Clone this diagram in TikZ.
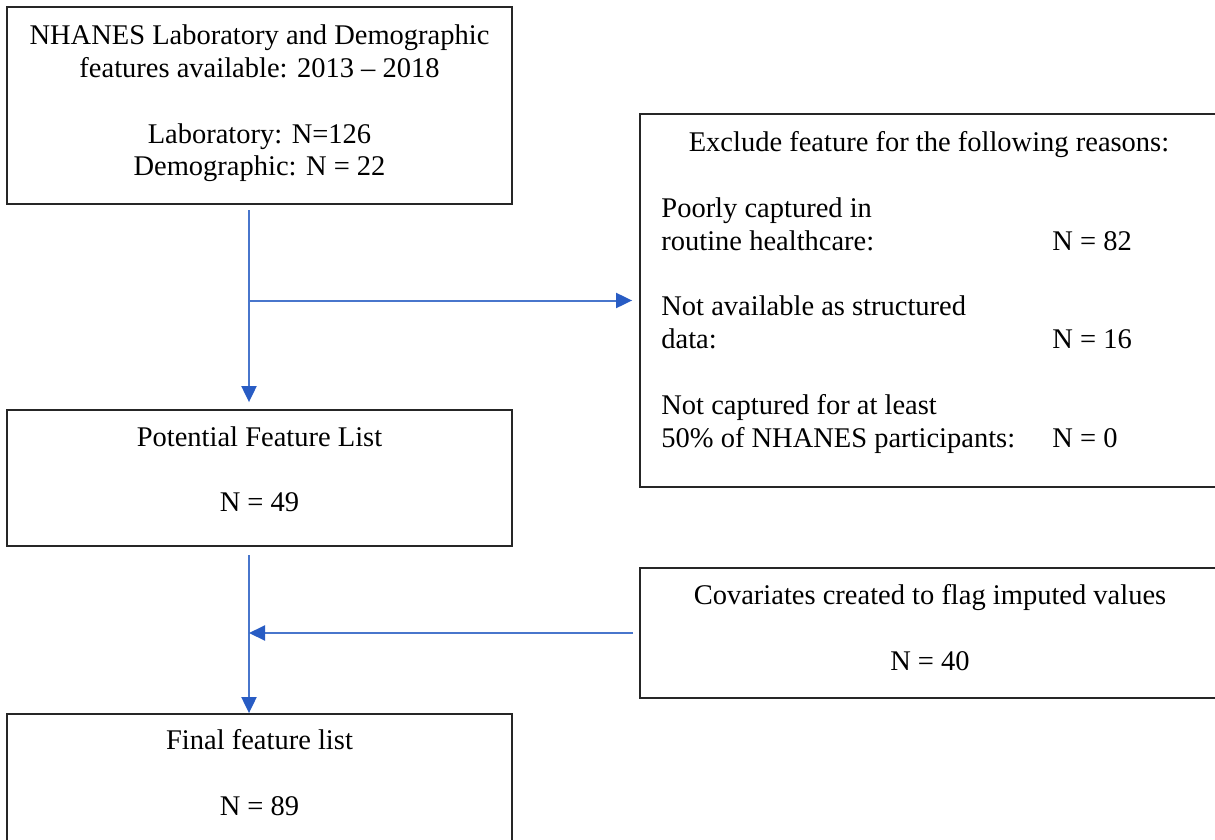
\documentclass[tikz,border=0pt]{standalone}
\usepackage{fontspec}
\setmainfont{Liberation Serif}
\usetikzlibrary{arrows.meta,positioning,calc}

\definecolor{flowblue}{RGB}{72,118,204}
\definecolor{tipblue}{RGB}{40,92,196}

\begin{document}
\begin{tikzpicture}[
  x=0.5pt, y=-0.5pt,
  >={Triangle[length=8pt,width=7.5pt,color=tipblue]},
  every node/.style={font=\fontsize{14.25}{16.4}\selectfont},
  box/.style={draw=black!85, line width=0.9pt, inner sep=0pt,
              minimum width=252.5pt, minimum height=68pt},
  sidebox/.style={box, minimum width=290pt},
  txt/.style={align=center, inner sep=0pt, anchor=base},
  flow/.style={->, draw=flowblue, line width=1pt},
]
\useasboundingbox (0,0) rectangle (1215,840);
\clip (0,0) rectangle (1215,840);
\fill[white] (0,0) rectangle (1215,840);

% left column
\node[box, minimum height=98.5pt] (avail) at (259.5,105.5) {};
\node[box] (pot) at (259.5,478) {};
\node[box] (final) at (259.5,782) {};

% right column
\node[sidebox, minimum height=186.5pt] (excl) at (930,300.5) {};
\node[sidebox, minimum height=65pt] (cov) at (930,633) {};

% texts (base = last line)
\node[txt] (availtxt) at (259.5,176)
  {NHANES Laboratory and Demographic\\features available: 2013 -- 2018\\[16.4pt]
   Laboratory: N=126\\Demographic: N = 22};
\node[txt] (pottxt) at (259.5,511.7) {Potential Feature List\\[16.4pt]N = 49};
\node[txt] (finaltxt) at (259.5,815) {Final feature list\\[16.4pt]N = 89};
\node[txt] (excltitle) at (929,151.7) {Exclude feature for the following reasons:};
\node[txt, anchor=base west, align=left] (reasons) at (661,447)
  {Poorly captured in\\\makebox[195.5pt][l]{routine healthcare:}N = 82\\[16.4pt]
   Not available as structured\\\makebox[195.5pt][l]{data:}N = 16\\[16.4pt]
   Not captured for at least\\\makebox[195.5pt][l]{50\% of NHANES participants:}N = 0};
\node[txt] (covtxt) at (930,670) {Covariates created to flag imputed values\\[16.4pt]N = 40};

% connectors
\coordinate (split) at (249,210);
\coordinate (merge) at (249,555);
\draw[flow, shorten >=3.5pt] (split) -- (split |- pot.north);
\draw[flow, shorten >=3.5pt] (split |- excl.west) -- (excl.west);
\draw[flow] (merge) -- (merge |- final.north);
\draw[flow, shorten <=3pt] (cov.west) -- (merge |- cov.west);
\end{tikzpicture}
\end{document}
